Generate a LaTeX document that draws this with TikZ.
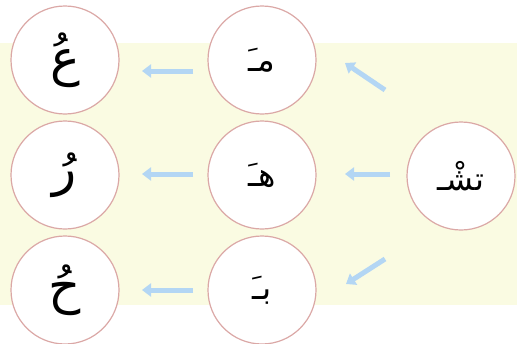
\documentclass[tikz,border=0pt]{standalone}
\usepackage{fontspec}
\newfontfamily\arabicfont[Script=Arabic]{DejaVu Sans}
\TeXXeTstate=1
\usetikzlibrary{arrows.meta}
\definecolor{bgyellow}{HTML}{FAFBE2}
\definecolor{ringc}{HTML}{DBA8A6}
\definecolor{arrc}{HTML}{B3D6F4}
\tikzset{
  x=1pt,y=-1pt,
  letter/.style={circle,draw=ringc,line width=1.2pt,fill=white,minimum size=108pt,inner sep=0pt},
  bigar/.style={font=\arabicfont\fontsize{50}{56}\selectfont},
  smallar/.style={font=\arabicfont\fontsize{33}{36}\selectfont},
  rightar/.style={font=\arabicfont\fontsize{32}{36}\selectfont},
  arr/.style={draw=arrc,line width=5pt,-{Triangle[width=13pt,length=9pt]}}
}
\begin{document}
\begin{tikzpicture}
\useasboundingbox (0,0) rectangle (517,343);
\fill[bgyellow] (0,43) rectangle (517,305);
\node[letter,bigar] (L1) at (65,60) {\beginR عُ\endR};
\node[letter,bigar] (L2) at (65,175) {\beginR رُ\endR};
\node[letter,bigar] (L3) at (65,290) {\beginR حُ\endR};
\node[letter,smallar] (M1) at (262,60) {\beginR مـَ\endR};
\node[letter,smallar] (M2) at (262,175) {\beginR هـَ\endR};
\node[letter,smallar] (M3) at (262,290) {\beginR بـَ\endR};
\node[letter,rightar] (R) at (461,176) {\beginR تشْـ\endR};
\coordinate (t1s) at (193,71); \coordinate (t1e) at (142,71);
\coordinate (t2s) at (193,174); \coordinate (t2e) at (142,174);
\coordinate (t3s) at (193,290); \coordinate (t3e) at (142,290);
\coordinate (r1s) at (385,90); \coordinate (r1e) at (345,63);
\coordinate (r2s) at (390,174); \coordinate (r2e) at (345,174);
\coordinate (r3s) at (385,259); \coordinate (r3e) at (346,284);
\draw[arr] (t1s) -- (t1e);
\draw[arr] (t2s) -- (t2e);
\draw[arr] (t3s) -- (t3e);
\draw[arr] (r1s) -- (r1e);
\draw[arr] (r2s) -- (r2e);
\draw[arr] (r3s) -- (r3e);
\end{tikzpicture}
\end{document}
